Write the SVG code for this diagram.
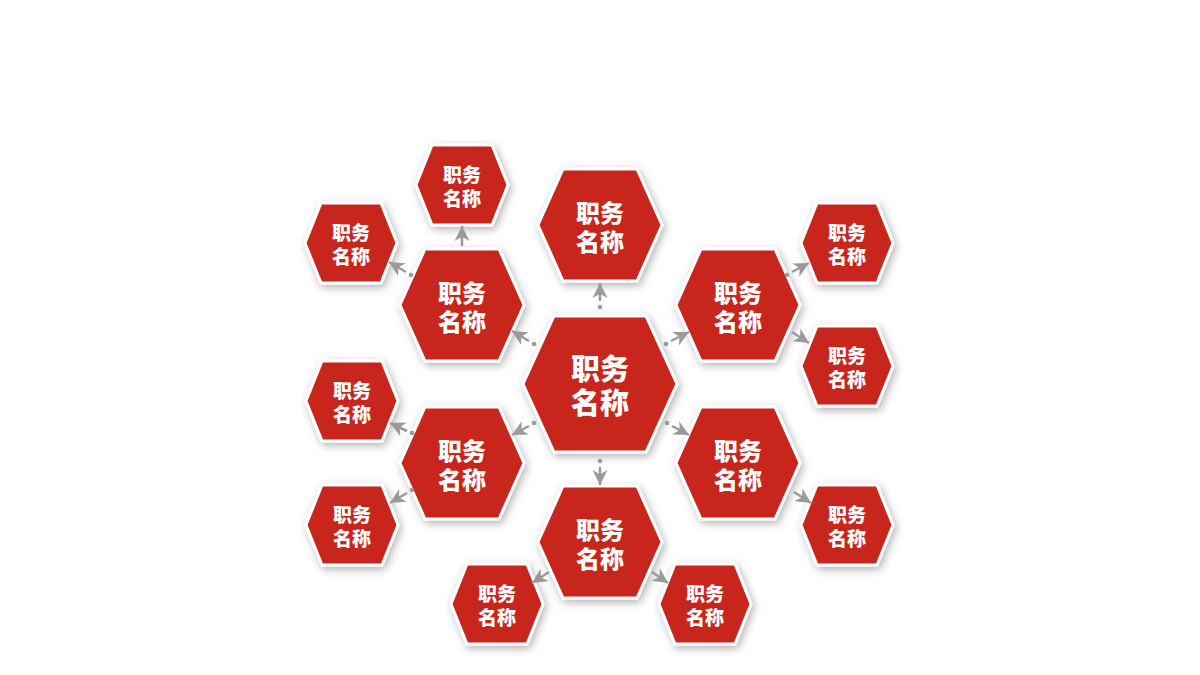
<svg xmlns="http://www.w3.org/2000/svg" width="1200" height="675" viewBox="0 0 1200 675">
<defs>
<style>
.hex{fill:#C8261F;stroke:#ffffff;stroke-width:3;stroke-linejoin:round;filter:url(#sh)}
.t{font-family:"Noto Sans CJK SC","Noto Sans",sans-serif;font-weight:900;fill:#ffffff;text-anchor:middle}
.s{font-size:19px}
.m{font-size:24px}
.l{font-size:29px}
.c line{stroke:#9a9a9a;stroke-width:2.5;marker-end:url(#ah)}
.c circle{fill:#9a9a9a}
</style>
<filter id="sh" x="-30%" y="-30%" width="160%" height="160%">
<feDropShadow dx="2" dy="3" stdDeviation="4" flood-color="#000" flood-opacity="0.3"/>
</filter>
<marker id="ah" viewBox="0 0 12 12" refX="12" refY="6" markerWidth="15" markerHeight="15" markerUnits="userSpaceOnUse" orient="auto">
<path d="M0,0 L12,6 L0,12 L3.5,6 z" fill="#9a9a9a"/>
</marker>
</defs>
<rect width="1200" height="675" fill="#ffffff"/>

<g id="n-center" transform="translate(600,384)">
<polygon class="hex" points="-77,0 -46,-68 46,-68 77,0 46,68 -46,68"/>
<text class="t l"><tspan x="0" y="-4">职务</tspan><tspan x="0" y="30">名称</tspan></text>
</g>
<g id="n-top" transform="translate(600,225)">
<polygon class="hex" points="-62,0 -37,-56 37,-56 62,0 37,56 -37,56"/>
<text class="t m"><tspan x="0" y="-3">职务</tspan><tspan x="0" y="26">名称</tspan></text>
</g>
<g id="n-ul" transform="translate(462,305)">
<polygon class="hex" points="-62,0 -37,-56 37,-56 62,0 37,56 -37,56"/>
<text class="t m"><tspan x="0" y="-3">职务</tspan><tspan x="0" y="26">名称</tspan></text>
</g>
<g id="n-ur" transform="translate(738,305)">
<polygon class="hex" points="-62,0 -37,-56 37,-56 62,0 37,56 -37,56"/>
<text class="t m"><tspan x="0" y="-3">职务</tspan><tspan x="0" y="26">名称</tspan></text>
</g>
<g id="n-ll" transform="translate(462,463)">
<polygon class="hex" points="-62,0 -37,-56 37,-56 62,0 37,56 -37,56"/>
<text class="t m"><tspan x="0" y="-3">职务</tspan><tspan x="0" y="26">名称</tspan></text>
</g>
<g id="n-lr" transform="translate(738,463)">
<polygon class="hex" points="-62,0 -37,-56 37,-56 62,0 37,56 -37,56"/>
<text class="t m"><tspan x="0" y="-3">职务</tspan><tspan x="0" y="26">名称</tspan></text>
</g>
<g id="n-bottom" transform="translate(600,542)">
<polygon class="hex" points="-62,0 -37,-56 37,-56 62,0 37,56 -37,56"/>
<text class="t m"><tspan x="0" y="-3">职务</tspan><tspan x="0" y="26">名称</tspan></text>
</g>

<g id="s-ul-top" transform="translate(462,185)">
<polygon class="hex" points="-46,0 -30,-40 30,-40 46,0 30,40 -30,40"/>
<text class="t s"><tspan x="0" y="-3">职务</tspan><tspan x="0" y="21">名称</tspan></text>
</g>
<g id="s-ul-left" transform="translate(351,243)">
<polygon class="hex" points="-46,0 -30,-40 30,-40 46,0 30,40 -30,40"/>
<text class="t s"><tspan x="0" y="-3">职务</tspan><tspan x="0" y="21">名称</tspan></text>
</g>
<g id="s-ur-top" transform="translate(847,243)">
<polygon class="hex" points="-46,0 -30,-40 30,-40 46,0 30,40 -30,40"/>
<text class="t s"><tspan x="0" y="-3">职务</tspan><tspan x="0" y="21">名称</tspan></text>
</g>
<g id="s-ur-bottom" transform="translate(847,366)">
<polygon class="hex" points="-46,0 -30,-40 30,-40 46,0 30,40 -30,40"/>
<text class="t s"><tspan x="0" y="-3">职务</tspan><tspan x="0" y="21">名称</tspan></text>
</g>
<g id="s-ll-top" transform="translate(352,401)">
<polygon class="hex" points="-46,0 -30,-40 30,-40 46,0 30,40 -30,40"/>
<text class="t s"><tspan x="0" y="-3">职务</tspan><tspan x="0" y="21">名称</tspan></text>
</g>
<g id="s-ll-bottom" transform="translate(352,525)">
<polygon class="hex" points="-46,0 -30,-40 30,-40 46,0 30,40 -30,40"/>
<text class="t s"><tspan x="0" y="-3">职务</tspan><tspan x="0" y="21">名称</tspan></text>
</g>
<g id="s-lr-bottom" transform="translate(847,525)">
<polygon class="hex" points="-46,0 -30,-40 30,-40 46,0 30,40 -30,40"/>
<text class="t s"><tspan x="0" y="-3">职务</tspan><tspan x="0" y="21">名称</tspan></text>
</g>
<g id="s-b-left" transform="translate(497,604)">
<polygon class="hex" points="-46,0 -30,-40 30,-40 46,0 30,40 -30,40"/>
<text class="t s"><tspan x="0" y="-3">职务</tspan><tspan x="0" y="21">名称</tspan></text>
</g>
<g id="s-b-right" transform="translate(705,604)">
<polygon class="hex" points="-46,0 -30,-40 30,-40 46,0 30,40 -30,40"/>
<text class="t s"><tspan x="0" y="-3">职务</tspan><tspan x="0" y="21">名称</tspan></text>
</g>

<g id="connectors" class="c">
<circle cx="600" cy="307" r="2.3"/><line x1="600" y1="301" x2="600" y2="283"/>
<circle cx="534" cy="344" r="2.3"/><line x1="529" y1="341" x2="512" y2="331"/>
<circle cx="666" cy="344" r="2.3"/><line x1="671" y1="341" x2="689" y2="332"/>
<circle cx="534" cy="423" r="2.3"/><line x1="529" y1="426" x2="512" y2="435"/>
<circle cx="667" cy="423" r="2.3"/><line x1="672" y1="426" x2="689" y2="435"/>
<circle cx="600" cy="461" r="2.3"/><line x1="600" y1="467" x2="600" y2="485"/>
<line x1="462" y1="246" x2="462" y2="226"/>
<circle cx="411" cy="275" r="2.3"/><line x1="406" y1="272" x2="389" y2="262"/>
<circle cx="787" cy="275" r="2.3"/><line x1="792" y1="272" x2="809" y2="263"/>
<line x1="792" y1="332" x2="809" y2="343"/>
<circle cx="412" cy="433" r="2.3"/><line x1="407" y1="431" x2="390" y2="423"/>
<circle cx="412" cy="490" r="2.3"/><line x1="407" y1="493" x2="390" y2="503"/>
<line x1="794" y1="492" x2="811" y2="503"/>
<line x1="549" y1="572" x2="532" y2="583"/>
<line x1="652" y1="572" x2="668" y2="583"/>
</g>
</svg>
